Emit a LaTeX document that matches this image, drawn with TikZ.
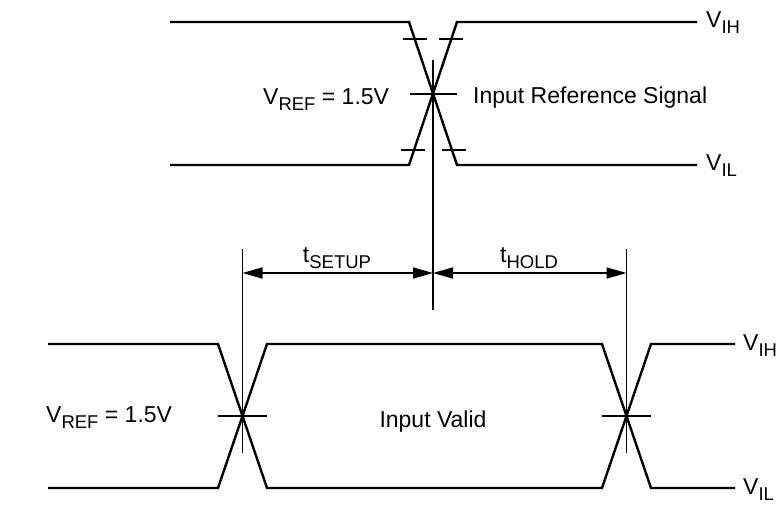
\documentclass[tikz,border=0pt]{standalone}
\usepackage{fontspec}
\setmainfont{Liberation Sans}
\usetikzlibrary{arrows.meta}
\newcommand{\lbsub}[2]{#1\raisebox{-6.5pt}{\fontsize{18.5}{18.5}\selectfont #2}}
\begin{document}
\begin{tikzpicture}[x=1pt,y=-1pt,
  wave/.style={line width=2.4pt, line join=miter},
  tickline/.style={line width=1.6pt},
  guide/.style={line width=1.6pt},
  dimarrow/.style={line width=1.6pt, {Triangle[length=20pt,width=11pt]}-{Triangle[length=20pt,width=11pt]}},
  txt/.style={font=\fontsize{23}{23}\selectfont, inner sep=0pt}]
\useasboundingbox (0,0) rectangle (778,504);

% ---------- top waveform ----------
\coordinate (tHl) at (170,22);  \coordinate (tHa) at (409,22);
\coordinate (tHb) at (457,22);  \coordinate (tHr) at (697,22);
\coordinate (tLl) at (170,165); \coordinate (tLa) at (409,165);
\coordinate (tLb) at (457,165); \coordinate (tLr) at (697,165);
\draw[wave] (tHl) -- (tHa) -- (tLb) -- (tLr);
\draw[wave] (tLl) -- (tLa) -- (tHb) -- (tHr);

% ticks on top waveform
\coordinate (k1a) at (403,39);  \coordinate (k1b) at (427,39);
\coordinate (k2a) at (439,39);  \coordinate (k2b) at (463,39);
\coordinate (k3a) at (401,150); \coordinate (k3b) at (425,150);
\coordinate (k4a) at (442,150); \coordinate (k4b) at (466,150);
\coordinate (k5a) at (410,94);  \coordinate (k5b) at (457,94);
\draw[tickline] (k1a) -- (k1b);
\draw[tickline] (k2a) -- (k2b);
\draw[tickline] (k3a) -- (k3b);
\draw[tickline] (k4a) -- (k4b);
\draw[tickline] (k5a) -- (k5b);

% central vertical reference
\coordinate (cvT) at (433,60); \coordinate (cvB) at (433,310);
\draw[guide] (cvT) -- (cvB);

% ---------- bottom waveform ----------
\coordinate (bHl) at (48,344);  \coordinate (bHa) at (218,344);
\coordinate (bHb) at (267,344); \coordinate (bHc) at (602,344);
\coordinate (bHd) at (651,344); \coordinate (bHr) at (735,344);
\coordinate (bLl) at (48,488);  \coordinate (bLa) at (218,488);
\coordinate (bLb) at (267,488); \coordinate (bLc) at (602,488);
\coordinate (bLd) at (651,488); \coordinate (bLr) at (735,488);
\draw[wave] (bHl) -- (bHa) -- (bLb) -- (bLc) -- (bHd) -- (bHr);
\draw[wave] (bLl) -- (bLa) -- (bHb) -- (bHc) -- (bLd) -- (bLr);

\coordinate (b1a) at (218,416); \coordinate (b1b) at (267,416);
\coordinate (b2a) at (602,416); \coordinate (b2b) at (651,416);
\draw[tickline] (b1a) -- (b1b);
\draw[tickline] (b2a) -- (b2b);

% side verticals
\coordinate (lvT) at (242.5,249); \coordinate (lvB) at (242.5,453);
\coordinate (rvT) at (626.5,249); \coordinate (rvB) at (626.5,453);
\draw[guide] (lvT) -- (lvB);
\draw[guide] (rvT) -- (rvB);

% dimension arrows
\coordinate (dA) at (242.5,273);
\coordinate (dB) at (433,273);
\coordinate (dC) at (626.5,273);
\draw[dimarrow] (dA) -- (dB);
\draw[dimarrow] (dB) -- (dC);

% ---------- labels ----------
\node[txt, anchor=base] (tsu) at (337,262) {\lbsub{t}{SETUP}};
\node[txt, anchor=base] (tho) at (529,262) {\lbsub{t}{HOLD}};

\node[txt, anchor=base west] (vih1) at (706,27) {\lbsub{V}{IH}};
\node[txt, anchor=base west] (vil1) at (706,170) {\lbsub{V}{IL}};
\node[txt, anchor=base west] (vih2) at (743,350) {\lbsub{V}{IH}};
\node[txt, anchor=base west] (vil2) at (743,494) {\lbsub{V}{IL}};

\node[txt, anchor=base west] (vref1) at (263,104) {\lbsub{V}{REF} = 1.5V};
\node[txt, anchor=base west] (vref2) at (46,422) {\lbsub{V}{REF} = 1.5V};

\node[txt, anchor=base west] (irs) at (473,103) {Input Reference Signal};
\node[txt, anchor=base] (iv) at (433,427) {Input Valid};
\end{tikzpicture}
\end{document}
